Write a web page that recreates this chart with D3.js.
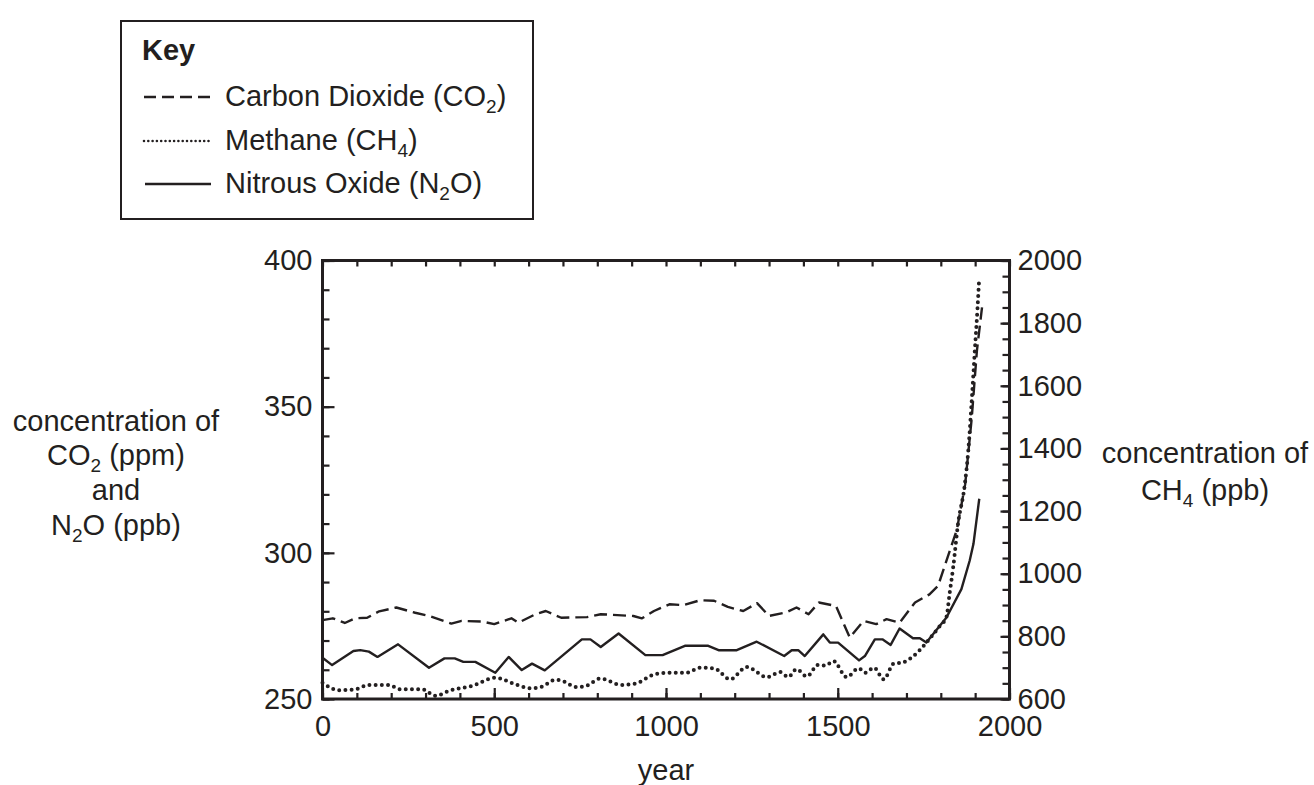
<!DOCTYPE html>
<html>
<head>
<meta charset="utf-8">
<script src="https://cdn.jsdelivr.net/npm/d3@7"></script>
<style>
  html, body { margin: 0; padding: 0; background: #fff; }
  svg text { font-family: "Liberation Sans", Arial, Helvetica, sans-serif; fill: #231f20; }
</style>
</head>
<body>
<svg id="chart" width="1314" height="785"></svg>
<script>
// ---- data ----
const co2Years = [0, 30, 65, 95, 130, 165, 215, 270, 310, 375, 405, 465, 500, 520, 550, 570, 620, 650, 695, 770, 810, 905, 930, 965, 1010, 1050, 1100, 1140, 1180, 1225, 1265, 1300, 1350, 1380, 1415, 1445, 1495, 1535, 1575, 1612, 1642, 1680, 1725, 1767, 1792, 1810, 1847, 1871, 1890, 1905, 1920];
const co2Values = [277, 277.6, 276, 277.6, 277.8, 280, 281.3, 279.5, 278.4, 275.8, 276.7, 276.5, 275.6, 276.4, 277.6, 276.1, 279, 280.1, 277.8, 278, 279, 278.4, 277.6, 280.1, 282.4, 282.1, 283.8, 283.6, 281.5, 280.1, 282.8, 278.4, 279.6, 281.3, 279, 283, 281.8, 271, 276.7, 275.6, 277.3, 276.1, 283, 285.8, 288.7, 295, 308, 323.5, 346, 369, 384];

const n2oYears = [0, 28, 90, 110, 135, 160, 220, 310, 355, 385, 410, 445, 503, 542, 580, 610, 647, 695, 755, 780, 810, 862, 940, 990, 1055, 1123, 1153, 1206, 1264, 1344, 1366, 1385, 1404, 1458, 1477, 1501, 1562, 1579, 1608, 1630, 1654, 1680, 1719, 1739, 1758, 1816, 1860, 1884, 1895, 1912];
const n2oValues = [264.1, 261.6, 266.4, 266.7, 266.2, 264.4, 268.7, 260.7, 263.9, 263.9, 262.7, 262.7, 259, 264.4, 259.9, 262.1, 259.8, 264.5, 270.4, 270.4, 267.8, 272.4, 265, 265, 268.2, 268.2, 266.7, 266.7, 269.6, 264.7, 266.7, 266.7, 264.7, 272.1, 269.3, 269.3, 263.2, 264.7, 270.4, 270.4, 268.5, 274.1, 270.8, 270.8, 269.3, 277.8, 287.6, 297.3, 303, 318.5];

const ch4Years = [0, 48, 96, 135, 193, 227, 290, 329, 368, 436, 503, 561, 605, 640, 677, 692, 740, 770, 808, 871, 910, 968, 1017, 1060, 1099, 1140, 1187, 1235, 1294, 1332, 1356, 1380, 1410, 1443, 1465, 1487, 1526, 1561, 1580, 1605, 1634, 1663, 1687, 1720, 1758, 1797, 1816, 1826, 1836, 1850, 1870, 1880, 1890, 1899, 1907, 1911];
const ch4Values = [652, 628, 631, 645, 645, 631, 631, 610, 626, 642, 668, 647, 634, 640, 661, 660, 638, 643, 665, 645, 649, 679, 684, 684, 700, 698, 663, 702, 670, 686, 670, 695, 672, 709, 707, 721, 670, 698, 684, 700, 663, 713, 716, 737, 780, 833, 860, 940, 1020, 1158, 1286, 1393, 1552, 1712, 1850, 1928];

const xTickLabels = [0, 500, 1000, 1500, 2000];
const leftTickLabels = [250, 300, 350, 400];
const rightTickLabels = [600, 800, 1000, 1200, 1400, 1600, 1800, 2000];

const legendLabels = [
  { name: "Carbon Dioxide (CO", sub: "2", tail: ")", style: "dash" },
  { name: "Methane (CH", sub: "4", tail: ")", style: "dot" },
  { name: "Nitrous Oxide (N", sub: "2", tail: "O)", style: "solid" }
];

// ---- layout ----
const INK = "#231f20";
const FS = 29;
const plotLeft = 322.5, plotRight = 1009.5, plotTop = 260.5, plotBottom = 699;

const svg = d3.select("#chart");

const x = d3.scaleLinear().domain([0, 2000]).range([plotLeft, plotRight]);
const yL = d3.scaleLinear().domain([250, 400]).range([plotBottom, plotTop]);
const yR = d3.scaleLinear().domain([600, 2000]).range([plotBottom, plotTop]);

const styles = {
  dash: { dash: "13,6", cap: "butt", width: 2.4 },
  dot: { dash: "0,6.2", cap: "round", width: 4 },
  solid: { dash: null, cap: "butt", width: 2.4 }
};
const legendStyles = {
  dash: { dash: "12,6", cap: "butt", width: 2.4 },
  dot: { dash: "0,4.3", cap: "round", width: 2.6 },
  solid: { dash: null, cap: "butt", width: 2.6 }
};

function zip(xs, ys) { return xs.map((d, i) => [d, ys[i]]); }

// ---- series ----
const lineL = d3.line().x(d => x(d[0])).y(d => yL(d[1]));
const lineR = d3.line().x(d => x(d[0])).y(d => yR(d[1])).curve(d3.curveMonotoneX);

function drawSeries(data, gen, st) {
  svg.append("path")
    .attr("d", gen(data))
    .attr("fill", "none")
    .attr("stroke", INK)
    .attr("stroke-width", st.width)
    .attr("stroke-linecap", st.cap)
    .attr("stroke-linejoin", "round")
    .attr("stroke-dasharray", st.dash);
}
drawSeries(zip(co2Years, co2Values), lineL, styles.dash);
drawSeries(zip(ch4Years, ch4Values), lineR, styles.dot);
drawSeries(zip(n2oYears, n2oValues), lineL, styles.solid);

// ---- axes ----
function styleAxis(g) {
  g.select(".domain").remove();
  g.selectAll(".tick line").attr("stroke", INK).attr("stroke-width", 2.2);
  g.selectAll(".tick text").attr("font-size", FS).attr("fill", INK)
    .style("font-family", '"Liberation Sans", Arial, Helvetica, sans-serif');
}

// bottom: minor every 100, major every 500
svg.append("g").attr("transform", `translate(0,${plotBottom})`)
  .call(d3.axisBottom(x).tickValues(d3.range(0, 2001, 100)).tickSize(-6).tickFormat(""))
  .call(styleAxis);
svg.append("g").attr("transform", `translate(0,${plotBottom})`)
  .call(d3.axisBottom(x).tickValues(xTickLabels).tickSize(-11).tickPadding(16).tickFormat(d3.format("d")))
  .call(styleAxis);
// top: short ticks every 100
svg.append("g").attr("transform", `translate(0,${plotTop})`)
  .call(d3.axisTop(x).tickValues(d3.range(0, 2001, 100)).tickSize(-6).tickFormat(""))
  .call(styleAxis);

// left
svg.append("g").attr("transform", `translate(${plotLeft},0)`)
  .call(d3.axisLeft(yL).tickValues(d3.range(250, 401, 10)).tickSize(-7).tickFormat(""))
  .call(styleAxis);
svg.append("g").attr("transform", `translate(${plotLeft},0)`)
  .call(d3.axisLeft(yL).tickValues(leftTickLabels).tickSize(-12).tickPadding(10).tickFormat(d3.format("d")))
  .call(styleAxis);

// right
svg.append("g").attr("transform", `translate(${plotRight},0)`)
  .call(d3.axisRight(yR).tickValues(d3.range(600, 2001, 50)).tickSize(-7).tickFormat(""))
  .call(styleAxis);
svg.append("g").attr("transform", `translate(${plotRight},0)`)
  .call(d3.axisRight(yR).tickValues(rightTickLabels).tickSize(-9).tickPadding(8).tickFormat(d3.format("d")))
  .call(styleAxis);

// frame
svg.append("rect")
  .attr("x", plotLeft).attr("y", plotTop)
  .attr("width", plotRight - plotLeft).attr("height", plotBottom - plotTop)
  .attr("fill", "none").attr("stroke", INK).attr("stroke-width", 3);

// ---- axis titles ----
function textWithSub(x0, y0, parts, anchor) {
  const t = svg.append("text").attr("x", x0).attr("y", y0)
    .attr("font-size", FS).attr("text-anchor", anchor || "middle");
  parts.forEach(p => {
    if (p.sub) {
      t.append("tspan").text(p.sub).attr("font-size", 19).attr("dy", 7);
    } else {
      const ts = t.append("tspan").text(p.text);
      if (p.back) ts.attr("dy", -7);
    }
  });
  return t;
}

textWithSub(116, 431, [{ text: "concentration of" }]);
textWithSub(116, 465, [{ text: "CO" }, { sub: "2" }, { text: " (ppm)", back: true }]);
textWithSub(116, 500, [{ text: "and" }]);
textWithSub(116, 535, [{ text: "N" }, { sub: "2" }, { text: "O (ppb)", back: true }]);

textWithSub(1205, 463, [{ text: "concentration of" }]);
textWithSub(1205, 500, [{ text: "CH" }, { sub: "4" }, { text: " (ppb)", back: true }]);

textWithSub(666, 780, [{ text: "year" }]);

// ---- legend ----
svg.append("rect")
  .attr("x", 121).attr("y", 21).attr("width", 412).attr("height", 198)
  .attr("fill", "#fff").attr("stroke", INK).attr("stroke-width", 2);
svg.append("text").attr("x", 142).attr("y", 60)
  .attr("font-size", FS).attr("font-weight", "bold").text("Key");

const legendRowY = [106, 150, 193];
legendLabels.forEach((d, i) => {
  const yb = legendRowY[i];
  const st = legendStyles[d.style];
  svg.append("line")
    .attr("x1", d.style === "solid" ? 145 : 144).attr("x2", 211)
    .attr("y1", yb - 9).attr("y2", yb - 9)
    .attr("stroke", INK)
    .attr("stroke-width", st.width)
    .attr("stroke-linecap", st.cap)
    .attr("stroke-dasharray", st.dash);
  textWithSub(225, yb, [{ text: d.name }, { sub: d.sub }, { text: d.tail, back: true }], "start");
});
</script>
</body>
</html>
